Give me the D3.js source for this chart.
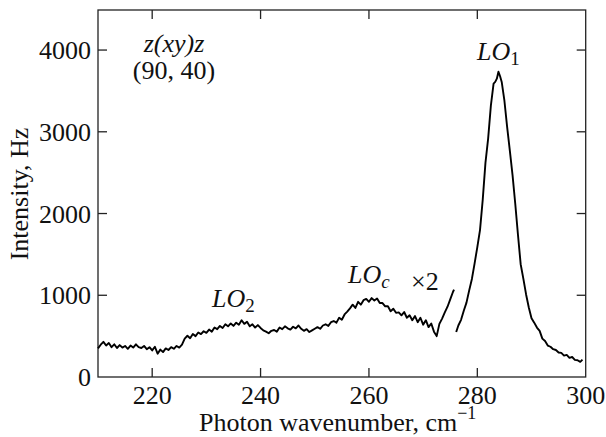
<!DOCTYPE html>
<html><head><meta charset="utf-8"><script src="https://cdn.jsdelivr.net/npm/d3@7"></script></head>
<body style="margin:0">
<svg id="chart" width="606" height="437"></svg>
<script>
// ---- data ----
const xTicks = [220, 240, 260, 280, 300];
const yTicks = [0, 1000, 2000, 3000, 4000];

// Segment 1 (×2 magnified part)
const seg1Wavenumber = [
  210.0,210.5,211.0,211.5,212.0,212.5,213.0,213.5,214.0,214.5,215.0,215.5,216.0,216.5,217.0,217.5,218.0,218.5,219.0,219.5,
  220.0,220.5,221.0,221.5,222.0,222.5,223.0,223.5,224.0,224.5,225.0,225.5,226.0,226.5,227.0,227.5,228.0,228.5,229.0,229.5,
  230.0,230.5,231.0,231.5,232.0,232.5,233.0,233.5,234.0,234.5,235.0,235.5,236.0,236.5,237.0,237.5,238.0,238.5,239.0,239.5,
  240.0,240.5,241.0,241.5,242.0,242.5,243.0,243.5,244.0,244.5,245.0,245.5,246.0,246.5,247.0,247.5,248.0,248.5,249.0,249.5,
  250.0,250.5,251.0,251.5,252.0,252.5,253.0,253.5,254.0,254.5,255.0,255.5,256.0,256.5,257.0,257.5,258.0,258.5,259.0,259.5,
  260.0,260.5,261.0,261.5,262.0,262.5,263.0,263.5,264.0,264.5,265.0,265.5,266.0,266.5,267.0,267.5,268.0,268.5,269.0,269.5,
  270.0,270.5,271.0,271.5,272.0,272.5,273.0,273.5,274.0,274.5,275.0,275.5,275.7
];
const seg1Intensity = [
  350,395,430,385,415,365,400,355,390,360,380,345,385,360,400,365,355,380,340,365,
  325,370,285,335,305,350,330,365,345,380,360,395,470,505,475,525,500,545,525,560,
  540,580,555,605,585,625,600,645,620,655,625,665,640,695,650,675,620,645,605,635,
  600,570,555,535,565,575,555,605,585,620,595,580,615,595,630,590,565,585,550,570,
  590,610,590,630,645,625,670,685,665,725,700,765,800,840,885,845,920,885,940,955,
  920,965,935,960,905,905,865,865,805,835,785,790,755,795,725,755,695,745,670,725,
  640,695,610,655,555,500,650,715,790,860,950,1040,1070
];

// Segment 2 (LO1 peak)
const seg2Wavenumber = [
  276.1,276.5,277.0,277.5,278.0,278.5,279.0,279.5,280.0,280.5,281.0,281.5,282.0,282.5,283.0,283.3,283.6,283.9,284.2,284.5,
  285.0,285.5,286.0,286.5,287.0,287.5,288.0,288.5,289.0,289.5,290.0,290.5,291.0,291.5,292.0,292.5,293.0,293.5,294.0,294.5,
  295.0,295.5,296.0,296.5,297.0,297.5,298.0,298.5,299.0,299.4
];
const seg2Intensity = [
  550,630,700,810,910,1060,1200,1390,1590,1800,2170,2620,2920,3320,3590,3610,3650,3735,3680,3610,
  3380,3060,2770,2470,2120,1740,1380,1200,1010,850,720,665,605,565,470,440,385,370,340,330,
  300,295,262,270,235,245,210,205,185,212
];

// ---- layout ----
const FONT = "Liberation Serif";
const svg = d3.select("#chart");
const mLeft = 98, mRight = 585.7, mTop = 10, mBottom = 377;
const x = d3.scaleLinear().domain([210, 300]).range([mLeft, mRight]);
const y = d3.scaleLinear().domain([0, 4490]).range([mBottom, mTop]);
const tickLen = 9;
const axisColor = "#222";
const textColor = "#111";

svg.append("rect").attr("width", 606).attr("height", 437).attr("fill", "#fff");

// frame
svg.append("rect")
  .attr("x", mLeft).attr("y", mTop)
  .attr("width", mRight - mLeft).attr("height", mBottom - mTop)
  .attr("fill", "none").attr("stroke", axisColor).attr("stroke-width", 1.3);

// x ticks (bottom and top, inward)
const gx = svg.append("g");
xTicks.filter(t => t < 300).forEach(t => {
  gx.append("line").attr("x1", x(t)).attr("x2", x(t))
    .attr("y1", mBottom).attr("y2", mBottom - tickLen)
    .attr("stroke", axisColor).attr("stroke-width", 1.3);
  gx.append("line").attr("x1", x(t)).attr("x2", x(t))
    .attr("y1", mTop).attr("y2", mTop + tickLen)
    .attr("stroke", axisColor).attr("stroke-width", 1.3);
});
xTicks.forEach(t => {
  svg.append("text").attr("x", x(t)).attr("y", 404)
    .attr("text-anchor", "middle").attr("font-size", 26)
    .attr("font-family", FONT).attr("fill", textColor).text(t);
});

// y ticks (left and right, inward)
const gy = svg.append("g");
yTicks.filter(t => t > 0).forEach(t => {
  gy.append("line").attr("x1", mLeft).attr("x2", mLeft + tickLen)
    .attr("y1", y(t)).attr("y2", y(t))
    .attr("stroke", axisColor).attr("stroke-width", 1.3);
  gy.append("line").attr("x1", mRight).attr("x2", mRight - tickLen)
    .attr("y1", y(t)).attr("y2", y(t))
    .attr("stroke", axisColor).attr("stroke-width", 1.3);
});
yTicks.forEach(t => {
  svg.append("text").attr("x", 91).attr("y", y(t) + 9)
    .attr("text-anchor", "end").attr("font-size", 26)
    .attr("font-family", FONT).attr("fill", textColor).text(t);
});

// curves
const line = d3.line().x(d => x(d[0])).y(d => y(d[1]));
const seg1 = seg1Wavenumber.map((v, i) => [v, seg1Intensity[i]]);
const seg2 = seg2Wavenumber.map((v, i) => [v, seg2Intensity[i]]);
[seg1, seg2].forEach(s => {
  svg.append("path").datum(s).attr("d", line)
    .attr("fill", "none").attr("stroke", "#000")
    .attr("stroke-width", 1.9).attr("stroke-linejoin", "round");
});

// axis labels
const xl = svg.append("text").attr("x", 199).attr("y", 431).attr("font-size", 26)
  .attr("font-family", FONT).attr("fill", textColor);
xl.append("tspan").text("Photon wavenumber, cm");
xl.append("tspan").attr("font-size", 18).attr("dy", -12).text("\u22121");

svg.append("text")
  .attr("transform", "translate(28,194) rotate(-90)")
  .attr("text-anchor", "middle").attr("font-size", 26)
  .attr("font-family", FONT).attr("fill", textColor)
  .text("Intensity, Hz");

// annotations
svg.append("text").attr("x", 174).attr("y", 52).attr("text-anchor", "middle")
  .attr("font-size", 26).attr("font-style", "italic")
  .attr("font-family", FONT).attr("fill", textColor).text("z(xy)z");
svg.append("text").attr("x", 174).attr("y", 79).attr("text-anchor", "middle")
  .attr("font-size", 26)
  .attr("font-family", FONT).attr("fill", textColor).text("(90, 40)");

function loLabel(px, py, sub, subItalic) {
  const t = svg.append("text").attr("x", px).attr("y", py).attr("font-size", 26)
    .attr("font-family", FONT).attr("fill", textColor);
  t.append("tspan").attr("font-style", "italic").text("LO");
  t.append("tspan").attr("font-size", 19).attr("dy", 5)
    .attr("font-style", subItalic ? "italic" : "normal").text(sub);
}
loLabel(477, 60, "1", false);
loLabel(212, 307, "2", false);
loLabel(348, 283, "c", true);

svg.append("text").attr("x", 411).attr("y", 290).attr("font-size", 26)
  .attr("font-family", FONT).attr("fill", textColor).text("\u00d72");
</script>
</body>
</html>
